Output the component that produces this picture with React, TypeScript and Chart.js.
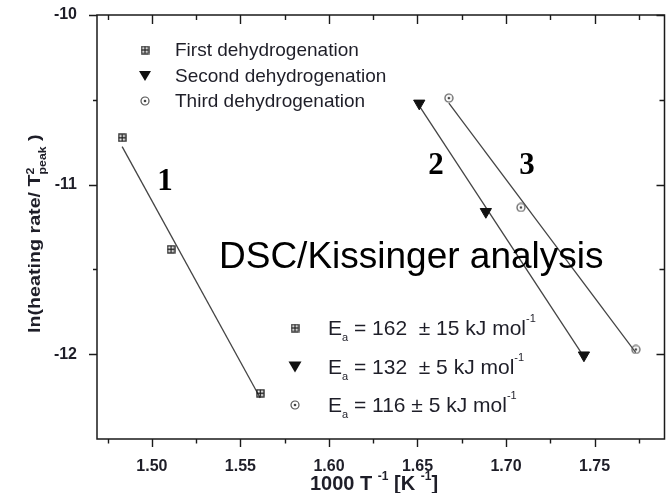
import React, { useEffect, useRef } from "react";
import { Chart, registerables } from "chart.js";
Chart.register(...registerables);

// ---- data ----
const series1X = [1.4832, 1.5108, 1.5612];
const series1Y = [-10.724, -11.381, -12.23];
const series2X = [1.651, 1.6886, 1.744];
const series2Y = [-10.521, -11.16, -12.006];
const series3X = [1.6677, 1.7084, 1.7733];
const series3Y = [-10.49, -11.135, -11.972];

const seriesNames = ["First dehydrogenation", "Second dehydrogenation", "Third dehydrogenation"];
const activationValues = [" = 162  \u00b1 15 kJ mol", " = 132  \u00b1 5 kJ mol", " = 116 \u00b1 5 kJ mol"];
const curveLabels = ["1", "2", "3"];
const annotationText = "DSC/Kissinger analysis";

const xMajorTicks = [1.5, 1.55, 1.6, 1.65, 1.7, 1.75];
const xMinorTicks = [1.475, 1.525, 1.575, 1.625, 1.675, 1.725, 1.775];
const yMajorTicks = [-10, -11, -12];
const yMinorTicks = [-10.5, -11.5];
const xMin = 1.469;
const xMax = 1.7895;
const yMin = -12.5;
const yMax = -10;

const SANS = '"Liberation Sans", Arial, sans-serif';
const SERIF = '"Liberation Serif", "Times New Roman", serif';
const INK = "#1e1e28";

function toPts(xs: number[], ys: number[]) {
  return xs.map((x, i) => ({ x, y: ys[i] }));
}

function fitLine(xs: number[], ys: number[]) {
  const n = xs.length;
  const mx = xs.reduce((a, b) => a + b, 0) / n;
  const my = ys.reduce((a, b) => a + b, 0) / n;
  let sxy = 0, sxx = 0;
  for (let i = 0; i < n; i++) {
    sxy += (xs[i] - mx) * (ys[i] - my);
    sxx += (xs[i] - mx) * (xs[i] - mx);
  }
  const b = sxy / sxx;
  const a = my - b * mx;
  const x0 = Math.min(...xs);
  const x1 = Math.max(...xs);
  return [{ x: x0, y: a + b * x0 }, { x: x1, y: a + b * x1 }];
}

function makeSquare(size: number) {
  const c = document.createElement("canvas");
  c.width = size; c.height = size;
  const g = c.getContext("2d")!;
  g.strokeStyle = "#1a1a1a";
  g.lineWidth = 1.3;
  g.strokeRect(1, 1, size - 2, size - 2);
  g.beginPath();
  g.moveTo(size / 2, 1); g.lineTo(size / 2, size - 1);
  g.moveTo(1, size / 2); g.lineTo(size - 1, size / 2);
  g.stroke();
  return c;
}

function makeCircle(size: number) {
  const c = document.createElement("canvas");
  c.width = size; c.height = size;
  const g = c.getContext("2d")!;
  g.strokeStyle = "#555";
  g.fillStyle = "#444";
  g.lineWidth = 1.2;
  g.beginPath();
  g.arc(size / 2, size / 2, size / 2 - 1, 0, Math.PI * 2);
  g.stroke();
  g.beginPath();
  g.arc(size / 2, size / 2, 1.3, 0, Math.PI * 2);
  g.fill();
  return c;
}

function drawTriangle(ctx: CanvasRenderingContext2D, x: number, y: number, w: number) {
  const h = w * 0.85;
  ctx.save();
  ctx.fillStyle = "#111";
  ctx.beginPath();
  ctx.moveTo(x - w / 2, y - h / 2);
  ctx.lineTo(x + w / 2, y - h / 2);
  ctx.lineTo(x, y + h / 2);
  ctx.closePath();
  ctx.fill();
  ctx.restore();
}

type Seg = { t: string; k?: "sup" | "sub"; size?: number; off?: number; noAdv?: boolean };

function drawRich(ctx: CanvasRenderingContext2D, segs: Seg[], x: number, y: number, base: number, weight: string, family: string) {
  let cx = x;
  for (const s of segs) {
    const size = s.size ?? base;
    ctx.font = `${weight} ${size}px ${family}`;
    const dy = s.k === "sup" ? -(s.off ?? 0) : s.k === "sub" ? (s.off ?? 0) : 0;
    ctx.fillText(s.t, cx, y + dy);
    if (!s.noAdv) cx += ctx.measureText(s.t).width;
  }
  return cx;
}

export default function App() {
  const ref = useRef<HTMLCanvasElement>(null);

  useEffect(() => {
    document.body.style.margin = "0";
    const sq = makeSquare(9);
    const ci = makeCircle(10);

    const overlay = {
      id: "overlay",
      beforeDatasetsDraw(chart: any) {
        const ctx: CanvasRenderingContext2D = chart.ctx;
        const { left, right, top, bottom } = chart.chartArea;
        const xs = chart.scales.x;
        const ys = chart.scales.y;
        ctx.save();
        ctx.strokeStyle = "#1a1a1a";
        ctx.lineWidth = 1.5;
        ctx.beginPath();
        ctx.rect(left, top, right - left, bottom - top);
        ctx.stroke();
        ctx.lineWidth = 1.4;
        ctx.beginPath();
        const xt = (v: number, len: number, lenTop: number) => {
          const p = Math.round(xs.getPixelForValue(v)) + 0.5;
          ctx.moveTo(p, bottom); ctx.lineTo(p, bottom + len);
          ctx.moveTo(p, top); ctx.lineTo(p, top + lenTop);
        };
        xMajorTicks.forEach((v) => xt(v, 8, 9));
        xMinorTicks.forEach((v) => xt(v, 4.5, 5));
        const yt = (v: number, len: number, lenR: number) => {
          const p = Math.round(ys.getPixelForValue(v)) + 0.5;
          ctx.moveTo(left, p); ctx.lineTo(left - len, p);
          ctx.moveTo(right, p); ctx.lineTo(right - lenR, p);
        };
        yMajorTicks.forEach((v) => yt(v, 8, 8));
        yMinorTicks.forEach((v) => yt(v, 4, 5));
        ctx.stroke();
        ctx.restore();
      },
      afterDatasetsDraw(chart: any) {
        const ctx: CanvasRenderingContext2D = chart.ctx;
        ctx.save();
        ctx.fillStyle = INK;
        ctx.textAlign = "left";

        // top legend
        ctx.textBaseline = "middle";
        ctx.font = `19px ${SANS}`;
        const ly = [50, 76, 101];
        ctx.drawImage(sq, 145 - 4.5, ly[0] - 4.5);
        drawTriangle(ctx, 145, ly[1], 12);
        ctx.drawImage(ci, 145 - 5, ly[2] - 5);
        seriesNames.forEach((n, i) => ctx.fillText(n, 175, ly[i] + 1));

        // bottom legend (activation energies)
        ctx.textBaseline = "alphabetic";
        const by = [335, 374, 412];
        ctx.drawImage(sq, 295 - 4.5, by[0] - 7 - 4.5);
        drawTriangle(ctx, 295, by[1] - 7, 13);
        ctx.drawImage(ci, 295 - 5, by[2] - 7 - 5);
        activationValues.forEach((v, i) => {
          drawRich(ctx, [
            { t: "E" },
            { t: "a", k: "sub", size: 11, off: 6 },
            { t: v },
            { t: "-1", k: "sup", size: 11, off: 13 },
          ], 328, by[i], 21, "normal", SANS);
        });

        // big annotation
        ctx.fillStyle = "#000";
        ctx.font = `37px ${SANS}`;
        ctx.fillText(annotationText, 219, 268);

        // curve numbers
        ctx.font = `bold 31px ${SERIF}`;
        ctx.textAlign = "center";
        const nums = [[165, 190], [436, 174], [527, 174]];
        curveLabels.forEach((c, i) => ctx.fillText(c, nums[i][0], nums[i][1]));

        // x title
        ctx.textAlign = "left";
        ctx.fillStyle = INK;
        drawRich(ctx, [
          { t: "1000 T " },
          { t: "-1", k: "sup", size: 12, off: 10 },
          { t: " [K " },
          { t: "-1", k: "sup", size: 12, off: 10 },
          { t: "]" },
        ], 310, 490, 20, "bold", SANS);

        // y title (rotated)
        ctx.save();
        ctx.translate(40, 333);
        ctx.rotate(-Math.PI / 2);
        ctx.scale(1.23, 1);
        drawRich(ctx, [
          { t: "ln(heating rate/ T" },
          { t: "2", k: "sup", size: 10, off: 6, noAdv: true },
          { t: "peak", k: "sub", size: 10, off: 6 },
          { t: " )" },
        ], 0, 0, 16, "bold", SANS);
        ctx.restore();

        ctx.restore();
      },
    };

    const chart = new Chart(ref.current!, {
      type: "scatter",
      data: {
        datasets: [
          { label: seriesNames[0], data: toPts(series1X, series1Y), pointStyle: sq as any, pointRadius: 5, showLine: false },
          { label: seriesNames[1], data: toPts(series2X, series2Y), pointStyle: "triangle", rotation: 180, pointRadius: 6.5, backgroundColor: "#111", borderColor: "#111", borderWidth: 1, showLine: false },
          { label: seriesNames[2], data: toPts(series3X, series3Y), pointStyle: ci as any, pointRadius: 5, showLine: false },
          { label: "fit1", data: fitLine(series1X, series1Y), showLine: true, pointRadius: 0, borderColor: "#444", borderWidth: 1.3 },
          { label: "fit2", data: fitLine(series2X, series2Y), showLine: true, pointRadius: 0, borderColor: "#444", borderWidth: 1.3 },
          { label: "fit3", data: fitLine(series3X, series3Y), showLine: true, pointRadius: 0, borderColor: "#444", borderWidth: 1.3 },
        ],
      },
      options: {
        responsive: false,
        animation: false,
        events: [],
        layout: { padding: { top: 15, right: 1, left: 0, bottom: 0 } },
        plugins: { legend: { display: false }, tooltip: { enabled: false } },
        scales: {
          x: {
            type: "linear",
            min: xMin,
            max: xMax,
            afterBuildTicks: (s: any) => { s.ticks = xMajorTicks.map((v) => ({ value: v })); },
            afterFit: (s: any) => { s.height = 54; s.paddingLeft = 0; s.paddingRight = 0; s.paddingTop = 0; s.paddingBottom = 0; },
            grid: { display: false },
            border: { display: false },
            ticks: {
              callback: (v: any) => Number(v).toFixed(2),
              font: { family: SANS, size: 16, weight: "bold" },
              color: INK,
              padding: 10,
              maxRotation: 0,
              autoSkip: false,
            },
          },
          y: {
            type: "linear",
            min: yMin,
            max: yMax,
            afterBuildTicks: (s: any) => { s.ticks = yMajorTicks.map((v) => ({ value: v })); },
            afterFit: (s: any) => { s.width = 97; s.paddingLeft = 0; s.paddingRight = 0; s.paddingTop = 0; s.paddingBottom = 0; },
            grid: { display: false },
            border: { display: false },
            ticks: {
              callback: (v: any) => String(v),
              font: { family: SANS, size: 16, weight: "bold" },
              color: INK,
              padding: 12,
              autoSkip: false,
            },
          },
        },
      },
      plugins: [overlay],
    } as any);
    return () => chart.destroy();
  }, []);

  return (
    <div style={{ width: 672, height: 493 }}>
      <canvas ref={ref} width={672} height={493} style={{ display: "block" }} />
    </div>
  );
}
